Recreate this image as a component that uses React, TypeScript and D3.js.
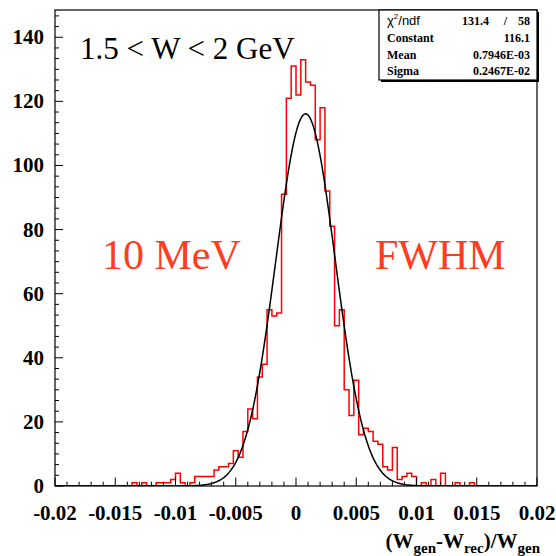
import React from 'react';
import * as d3 from 'd3';

// Histogram definition (100 bins from -0.02 to 0.02)
const histLow = -0.02;
const histHigh = 0.02;
const binCounts = [
  0, 0, 0, 0, 0, 0, 0, 0, 0, 0, 0, 0, 0, 0, 0, 0,
  1, 0, 1, 0, 0, 1, 1, 1, 2, 4, 1, 0, 1, 3, 3, 3, 3, 5, 6, 6,
  7, 11, 9, 17, 24, 21, 34, 38, 55, 53, 54, 91, 121, 131, 122, 133, 126, 125, 108, 118,
  92, 81, 50, 55, 30, 22, 33, 16, 18, 17, 14, 13, 6, 5, 12, 2, 3, 4, 3, 0,
  1, 0, 2, 0, 4, 0, 0, 1, 0, 0, 1,
  0, 0, 0, 0, 0, 0, 0, 0, 0, 0, 0, 0, 0,
];

// Gaussian fit parameters
const fitConstant = 116.1;
const fitMean = 0.7946e-3;
const fitSigma = 0.2467e-2;

const xTickValues = [-0.02, -0.015, -0.01, -0.005, 0, 0.005, 0.01, 0.015, 0.02];
const xTickLabels = ['-0.02', '-0.015', '-0.01', '-0.005', '0', '0.005', '0.01', '0.015', '0.02'];
const yTickValues = [0, 20, 40, 60, 80, 100, 120, 140];
const yTickLabels = ['0', '20', '40', '60', '80', '100', '120', '140'];
const yMax = 148.5;

const statsRows = [
  ['Constant', '116.1'],
  ['Mean', '0.7946E-03'],
  ['Sigma', '0.2467E-02'],
];
const chi2Value = '131.4';
const ndfValue = '58';

const W = 556;
const H = 556;
const frame = { left: 55, right: 537, top: 10, bottom: 486 };

const serif = "'Liberation Serif', 'Times New Roman', serif";
const sans = "'Liberation Sans', Arial, sans-serif";
const labelColor = '#ff3c1e';

export default function App() {
  const x = d3.scaleLinear().domain([histLow, histHigh]).range([frame.left, frame.right]);
  const y = d3.scaleLinear().domain([0, yMax]).range([frame.bottom, frame.top]);

  const nBins = binCounts.length;
  const bw = (histHigh - histLow) / nBins;
  const pts: [number, number][] = [[histLow, 0]];
  binCounts.forEach((c, i) => pts.push([histLow + i * bw, c]));
  pts.push([histHigh, binCounts[nBins - 1]]);
  pts.push([histHigh, 0]);
  const histLine = d3
    .line<[number, number]>()
    .x((d) => x(d[0]))
    .y((d) => y(d[1]))
    .curve(d3.curveStepAfter);
  const histPath = histLine(pts) || '';

  const fitXs = d3.range(0, 801).map((i) => histLow + (i * (histHigh - histLow)) / 800);
  const fitLine = d3
    .line<number>()
    .x((v) => x(v))
    .y((v) => y(fitConstant * Math.exp(-0.5 * Math.pow((v - fitMean) / fitSigma, 2))));
  const fitPath = fitLine(fitXs) || '';

  // minor ticks
  const xMinor = d3.range(-20, 21).map((i) => i * 0.001);
  const yMinor: number[] = [];
  for (let v = 0; v <= yMax + 1e-9; v += 20 / 6) yMinor.push(v);

  const box = { left: 379, right: frame.right, top: frame.top, bottom: 80 };
  const rowBase = [25, 42, 58.5, 75];

  return (
    <svg
      width={W}
      height={H}
      style={{ position: 'absolute', left: 0, top: 0, background: '#fff' }}
      xmlns="http://www.w3.org/2000/svg"
    >
      <rect x={0} y={0} width={W} height={H} fill="#fff" />
      <defs>
        <clipPath id="frameClip">
          <rect x={frame.left} y={frame.top} width={frame.right - frame.left} height={frame.bottom - frame.top} />
        </clipPath>
      </defs>

      {/* histogram */}
      <path d={histPath} fill="none" stroke="#ff0000" strokeWidth={1.5} clipPath="url(#frameClip)" />
      {/* fit */}
      <path d={fitPath} fill="none" stroke="#000" strokeWidth={1.5} clipPath="url(#frameClip)" />

      {/* frame */}
      <rect
        x={frame.left}
        y={frame.top}
        width={frame.right - frame.left}
        height={frame.bottom - frame.top}
        fill="none"
        stroke="#000"
        strokeWidth={1.2}
      />

      {/* x ticks */}
      {xMinor.map((v, i) => {
        const major = i % 5 === 0;
        return (
          <line
            key={'xm' + i}
            x1={x(v)}
            x2={x(v)}
            y1={frame.bottom}
            y2={frame.bottom - (major ? 8.5 : 4.3)}
            stroke="#000"
            strokeWidth={1}
          />
        );
      })}
      {xTickValues.map((v, i) => (
        <text
          key={'xl' + i}
          x={x(v)}
          y={520}
          textAnchor="middle"
          fontFamily={serif}
          fontWeight="bold"
          fontSize={21}
          fill="#000"
        >
          {xTickLabels[i]}
        </text>
      ))}

      {/* y ticks */}
      {yMinor.map((v, i) => {
        const major = i % 6 === 0;
        return (
          <line
            key={'ym' + i}
            x1={frame.left}
            x2={frame.left + (major ? 8 : 4)}
            y1={y(v)}
            y2={y(v)}
            stroke="#000"
            strokeWidth={1}
          />
        );
      })}
      {yTickValues.map((v, i) => (
        <text
          key={'yl' + i}
          x={44}
          y={y(v) + 7}
          textAnchor="end"
          fontFamily={serif}
          fontWeight="bold"
          fontSize={21}
          fill="#000"
        >
          {yTickLabels[i]}
        </text>
      ))}

      {/* x axis title */}
      <text x={540} y={548} textAnchor="end" fontFamily={serif} fontWeight="bold" fontSize={21} fill="#000">
        (W<tspan fontSize={15} dy={5}>gen</tspan>
        <tspan dy={-5}>-W</tspan>
        <tspan fontSize={15} dy={5}>rec</tspan>
        <tspan dy={-5}>)/W</tspan>
        <tspan fontSize={15} dy={5}>gen</tspan>
      </text>

      {/* annotations */}
      <text x={80} y={59} fontFamily={serif} fontSize={31} fill="#000">
        1.5 &lt; W &lt; 2 GeV
      </text>
      <text x={102} y={269} fontFamily={serif} fontSize={42} fill={labelColor}>
        10 MeV
      </text>
      <text x={375} y={269} fontFamily={serif} fontSize={42} fill={labelColor}>
        FWHM
      </text>

      {/* stats box */}
      <rect x={box.left + 2} y={box.top + 2} width={box.right - box.left} height={box.bottom - box.top} fill="#000" />
      <rect
        x={box.left}
        y={box.top}
        width={box.right - box.left}
        height={box.bottom - box.top}
        fill="#fff"
        stroke="#000"
        strokeWidth={1.2}
      />
      <text x={387} y={rowBase[0]} fontFamily={sans} fontSize={13} fill="#000">
        χ<tspan fontSize={8} dy={-6}>2</tspan>
        <tspan dy={6}>/ndf</tspan>
      </text>
      <text x={489} y={rowBase[0]} textAnchor="end" fontFamily={serif} fontWeight="bold" fontSize={12} fill="#000">
        {chi2Value}
      </text>
      <text x={505.5} y={rowBase[0]} textAnchor="middle" fontFamily={serif} fontWeight="bold" fontSize={12} fill="#000">
        /
      </text>
      <text x={530} y={rowBase[0]} textAnchor="end" fontFamily={serif} fontWeight="bold" fontSize={12} fill="#000">
        {ndfValue}
      </text>
      {statsRows.map((r, i) => (
        <g key={'sr' + i}>
          <text x={387} y={rowBase[i + 1]} fontFamily={serif} fontWeight="bold" fontSize={12} fill="#000">
            {r[0]}
          </text>
          <text
            x={530}
            y={rowBase[i + 1]}
            textAnchor="end"
            fontFamily={serif}
            fontWeight="bold"
            fontSize={12}
            fill="#000"
          >
            {r[1]}
          </text>
        </g>
      ))}
    </svg>
  );
}
